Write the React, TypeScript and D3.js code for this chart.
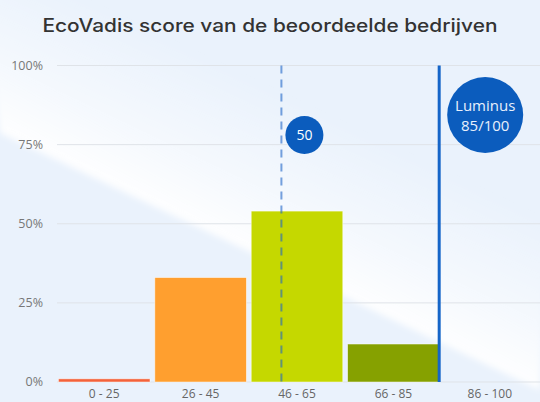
import * as d3 from "d3";
import { useEffect } from "react";

// score bins and share of rated companies (%)
const categories = ["0 - 25", "26 - 45", "46 - 65", "66 - 85", "86 - 100"];
const binEdges = [0, 25, 45, 65, 85, 100];
const shares = [1, 33, 54, 12, 0];
const barColors = ["#f4623a", "#ff9f2f", "#c5d800", "#86a100", "#1565c8"];
const yTicks = [0, 25, 50, 75, 100];

const averageScore = 50;
const luminusScore = 85;
const luminusLabel = ["Luminus", "85/100"];
const title = "EcoVadis score van de beoordeelde bedrijven";

const W = 540;
const H = 402;

export default function App() {
  useEffect(() => {
    document.body.style.margin = "0";
  }, []);

  const margin = { top: 65.5, right: 2, bottom: 20, left: 56 };

  const x = d3
    .scaleBand()
    .domain(categories)
    .range([margin.left, W - margin.right])
    .paddingInner(0.05)
    .paddingOuter(0.025);

  const y = d3
    .scaleLinear()
    .domain([0, 100])
    .range([H - margin.bottom, margin.top]);

  // score -> pixel: 0 at the axis start, 85 at the right edge of the 66-85 bar
  const scoreX = d3
    .scaleLinear()
    .domain([binEdges[0], binEdges[4]])
    .range([margin.left, x(categories[3])! + x.bandwidth()]);

  const avgX = scoreX(averageScore);
  const lumX = scoreX(luminusScore);

  return (
    <svg width={W} height={H} style={{ position: "absolute", left: 0, top: 0 }}>
      <defs>
        <linearGradient id="sheen" gradientUnits="userSpaceOnUse" x1="210" y1="233" x2="300" y2="45">
          <stop offset="0" stopColor="#ffffff" stopOpacity="0.95" />
          <stop offset="0.3" stopColor="#ffffff" stopOpacity="0.5" />
          <stop offset="0.75" stopColor="#ffffff" stopOpacity="0" />
        </linearGradient>
        <filter id="soft" x="-5%" y="-5%" width="110%" height="110%">
          <feGaussianBlur stdDeviation="3" />
        </filter>
      </defs>
      <rect width={W} height={H} fill="#eaf2fc" />
      <polygon points={`0,133 ${W},390 ${W + 20},-20 -20,-20`} fill="url(#sheen)" filter="url(#soft)" />

      <text
        x={W / 2}
        y={32}
        textAnchor="middle"
        fontFamily="Inter, 'Open Sans', sans-serif"
        fontSize={18}
        fontWeight={500}
        fill="#333333"
        textLength={455}
        lengthAdjust="spacingAndGlyphs"
      >
        {title}
      </text>

      {/* grid + y axis */}
      {yTicks.map((t) => (
        <g key={t}>
          <line x1={margin.left + 1} x2={W} y1={y(t)} y2={y(t)} stroke="#dfe3e8" strokeWidth={1} />
          <text
            x={43}
            y={y(t)}
            dy="0.35em"
            textAnchor="end"
            fontFamily="'Open Sans', sans-serif"
            fontSize={12.5}
            fill="#777777"
          >
            {t}%
          </text>
        </g>
      ))}

      {/* bars */}
      {categories.map((c, i) => (
        <rect
          key={c}
          x={x(c)}
          y={y(shares[i])}
          width={x.bandwidth()}
          height={y(0) - y(shares[i])}
          fill={barColors[i]}
          stroke="rgba(255,255,255,0.6)"
          strokeWidth={shares[i] > 0 ? 0.8 : 0}
        />
      ))}

      {/* x labels */}
      {categories.map((c) => (
        <text
          key={c}
          x={x(c)! + x.bandwidth() / 2}
          y={398}
          textAnchor="middle"
          fontFamily="'Open Sans', sans-serif"
          fontSize={12}
          fill="#666666"
        >
          {c}
        </text>
      ))}

      {/* average marker */}
      <line
        x1={avgX}
        x2={avgX}
        y1={y(100)}
        y2={y(0)}
        stroke="#1e64c8"
        strokeOpacity={0.6}
        strokeWidth={2}
        strokeDasharray="8,6"
      />
      <circle cx={avgX + 23} cy={135} r={19} fill="#0b5cbd" />
      <text
        x={avgX + 23}
        y={135}
        dy="0.36em"
        textAnchor="middle"
        fontFamily="'Open Sans', sans-serif"
        fontSize={14}
        fill="#ffffff"
      >
        {averageScore}
      </text>

      {/* Luminus marker */}
      <line x1={lumX} x2={lumX} y1={y(100)} y2={y(0)} stroke="#1565c8" strokeWidth={3} />
      <circle cx={lumX + 46} cy={115} r={38} fill="#0b5cbd" />
      {luminusLabel.map((l, i) => (
        <text
          key={l}
          x={lumX + 46}
          y={106 + i * 20}
          dy="0.35em"
          textAnchor="middle"
          fontFamily="'Open Sans', sans-serif"
          fontSize={15}
          fill="#e8f0fc"
        >
          {l}
        </text>
      ))}
    </svg>
  );
}
